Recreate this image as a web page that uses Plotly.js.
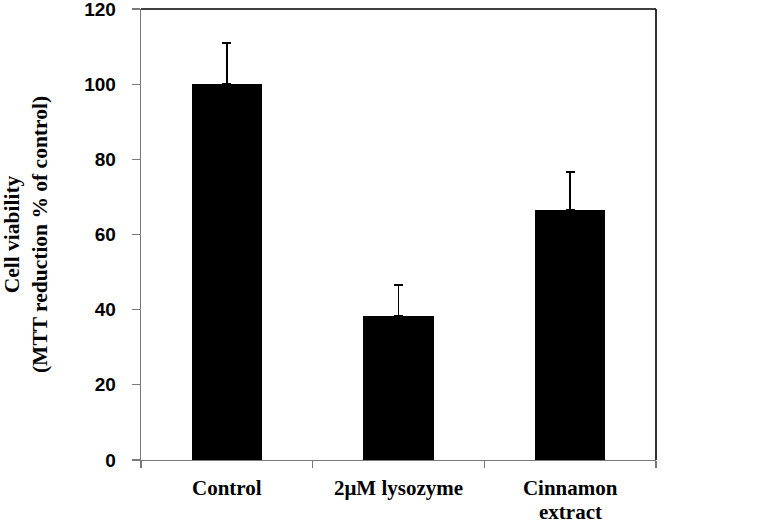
<!DOCTYPE html>
<html>
<head>
<meta charset="utf-8">
<script src="https://cdn.plot.ly/plotly-3.0.1.min.js"></script>
<style>html,body{margin:0;padding:0;background:#fff;}#chart{width:761px;height:523px;}</style>
</head>
<body>
<div id="chart"></div>
<script>
const categories = ["Control", "2μM lysozyme", "Cinnamon extract"];
const tickLines1 = ["Control", "2μM lysozyme", "Cinnamon"];
const tickLines2 = ["", "", "extract"];
const viability = [100, 38.3, 66.5];
const errorUp = [11, 8.2, 10.2];
const errorDown = [0, 0, 0];
const yTickValues = [0, 20, 40, 60, 80, 100, 120];

const trace = {
  type: "bar",
  x: categories,
  y: viability,
  width: 0.41,
  marker: {color: "#000000", line: {width: 0}},
  error_y: {
    type: "data",
    symmetric: false,
    array: errorUp,
    arrayminus: errorDown,
    color: "#000000",
    thickness: 1.6,
    width: 4.5
  },
  hoverinfo: "none"
};

const xFont = {family: "Liberation Serif", size: 21, color: "#000000", weight: "bold"};

const secondLines = categories.map((c, i) => ({
  x: c, xref: "x", y: 0, yref: "paper",
  text: tickLines2[i], showarrow: false,
  xanchor: "center", yanchor: "middle", yshift: -52,
  font: xFont
})).filter(a => a.text !== "");

const layout = {
  width: 761,
  height: 523,
  margin: {l: 141, r: 105, t: 9, b: 63},
  paper_bgcolor: "#ffffff",
  plot_bgcolor: "#ffffff",
  showlegend: false,
  bargap: 0,
  xaxis: {
    type: "category",
    range: [-0.5, 2.5],
    tickvals: categories,
    ticktext: tickLines1,
    showline: true,
    linecolor: "#7a7a7a",
    linewidth: 1.3,
    ticks: "outside",
    tickson: "boundaries",
    ticklen: 7,
    tickcolor: "#7a7a7a",
    tickwidth: 1.3,
    showgrid: false,
    ticklabelstandoff: 8,
    tickfont: xFont,
    automargin: false
  },
  yaxis: {
    range: [0, 120],
    tickvals: yTickValues,
    ticktext: yTickValues.map(String),
    showline: true,
    linecolor: "#7a7a7a",
    linewidth: 1.3,
    ticks: "outside",
    ticklen: 8,
    tickcolor: "#7a7a7a",
    tickwidth: 1.3,
    showgrid: false,
    zeroline: false,
    ticklabelstandoff: 12,
    ticklabeloverflow: "allow",
    tickfont: {family: "Liberation Sans", size: 19, color: "#000000", weight: "bold"},
    title: {
      text: "Cell viability<br>(MTT reduction % of control)",
      font: {family: "Liberation Serif", size: 21.5, color: "#000000", weight: "bold"},
      standoff: 36
    },
    automargin: false
  },
  annotations: secondLines,
  shapes: [
    {type: "line", xref: "paper", yref: "paper", x0: 0, x1: 1, y0: 1, y1: 1, line: {color: "#000000", width: 1.6}},
    {type: "line", xref: "paper", yref: "paper", x0: 1, x1: 1, y0: 0, y1: 1, line: {color: "#000000", width: 1.6}}
  ]
};

Plotly.newPlot("chart", [trace], layout, {displayModeBar: false, staticPlot: true});
</script>
</body>
</html>
